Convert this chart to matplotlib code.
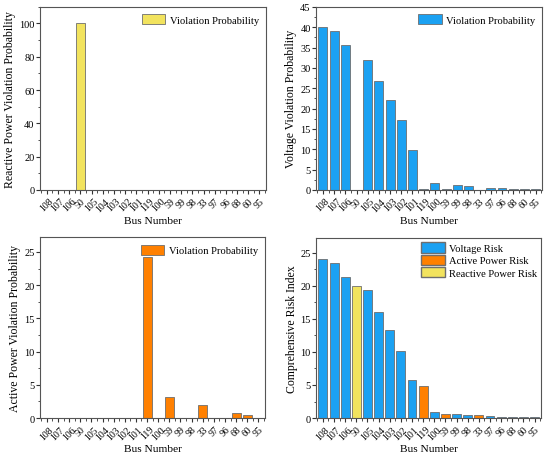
import numpy as np
import matplotlib.pyplot as plt
from matplotlib.ticker import MultipleLocator
from matplotlib.patches import Patch

plt.rcParams['font.family'] = ['Liberation Serif', 'DejaVu Serif']

# Datos
buses = ['108', '107', '106', '50', '105', '104', '103', '102', '101', '119',
         '100', '59', '99', '98', '33', '97', '96', '68', '60', '95']
reactive = [0, 0, 0, 100, 0, 0, 0, 0, 0, 0, 0, 0, 0, 0, 0, 0, 0, 0, 0, 0]
voltage = [40.0, 39.1, 35.6, 0, 32.0, 26.8, 22.2, 17.2, 9.8, 0.1,
           1.6, 0.1, 1.2, 0.9, 0, 0.5, 0.4, 0.1, 0.1, 0.1]
active = [0, 0, 0, 0, 0, 0, 0, 0, 0, 24.2, 0, 3.1, 0, 0, 2.0, 0, 0, 0.8, 0.4, 0]
risk = [24.0, 23.4, 21.4, 20.0, 19.3, 16.1, 13.3, 10.2, 5.8, 4.9,
        0.9, 0.6, 0.6, 0.4, 0.4, 0.3, 0.2, 0.2, 0.1, 0.1]
risk_type = ['V', 'V', 'V', 'Q', 'V', 'V', 'V', 'V', 'V', 'P',
             'V', 'P', 'V', 'V', 'P', 'V', 'V', 'V', 'V', 'V']

blue = '#1BA1F2'
orange = '#FF8000'
yellow = '#F2E35E'
edge = '#6E6E6E'
colores = {'V': blue, 'P': orange, 'Q': yellow}

x = np.arange(len(buses))

fig = plt.figure(figsize=(5.5, 4.6), dpi=100)
ax1 = fig.add_axes([0.073, 0.585, 0.411, 0.398])
ax2 = fig.add_axes([0.575, 0.585, 0.411, 0.398])
ax3 = fig.add_axes([0.073, 0.089, 0.409, 0.393])
ax4 = fig.add_axes([0.575, 0.089, 0.409, 0.391])


def estilo(ax, ylabel, ymax, major, minor):
    ax.set_xlim(-0.6, len(buses) - 0.4)
    ax.set_ylim(0, ymax)
    ax.set_xticks(x)
    ax.set_xticklabels(buses, rotation=45, fontsize=7)
    ax.xaxis.set_minor_locator(MultipleLocator(0.5))
    ax.yaxis.set_major_locator(MultipleLocator(major))
    ax.yaxis.set_minor_locator(MultipleLocator(minor))
    ax.tick_params(axis='both', which='major', direction='out', length=3,
                   width=0.8, labelsize=7.5, pad=1, color='#333333')
    ax.tick_params(axis='x', which='major', labelsize=7, pad=1.5)
    ax.tick_params(axis='both', which='minor', direction='out', length=1.8,
                   width=0.6, color='#333333')
    for s in ax.spines.values():
        s.set_color('#555555')
        s.set_linewidth(0.8)
    ax.set_xlabel('Bus Number', fontsize=8.2, labelpad=2)
    ax.set_ylabel(ylabel, fontsize=8.5, labelpad=2)


ax1.bar(x, reactive, width=0.8, color=yellow, edgecolor=edge, linewidth=0.6,
        label='Violation Probability')
estilo(ax1, 'Reactive Power Violation Probability', 110, 20, 10)

ax2.bar(x, voltage, width=0.8, color=blue, edgecolor=edge, linewidth=0.6,
        label='Violation Probability')
estilo(ax2, 'Voltage Violation Probability', 45, 5, 2.5)

ax3.bar(x, active, width=0.8, color=orange, edgecolor=edge, linewidth=0.6,
        label='Violation Probability')
estilo(ax3, 'Active Power Violation Probability', 27.2, 5, 2.5)

ax4.bar(x, risk, width=0.8, color=[colores[t] for t in risk_type],
        edgecolor=edge, linewidth=0.6)
estilo(ax4, 'Comprehensive Risk Index', 27.2, 5, 2.5)

for ax in (ax1, ax2, ax3):
    ax.legend(loc='upper right', fontsize=7.6, frameon=False, handlelength=2.2,
              handleheight=1.1, handletextpad=0.4, borderaxespad=0.4,
              borderpad=0.3)

handles = [Patch(facecolor=blue, edgecolor=edge, label='Voltage Risk'),
           Patch(facecolor=orange, edgecolor=edge, label='Active Power Risk'),
           Patch(facecolor=yellow, edgecolor=edge, label='Reactive Power Risk')]
ax4.legend(handles=handles, loc='upper right', fontsize=7.6, frameon=False,
           handlelength=2.2, handleheight=1.1, handletextpad=0.4,
           labelspacing=0.15, borderaxespad=0.2, borderpad=0.2)

fig.savefig('out.png', dpi=100)
